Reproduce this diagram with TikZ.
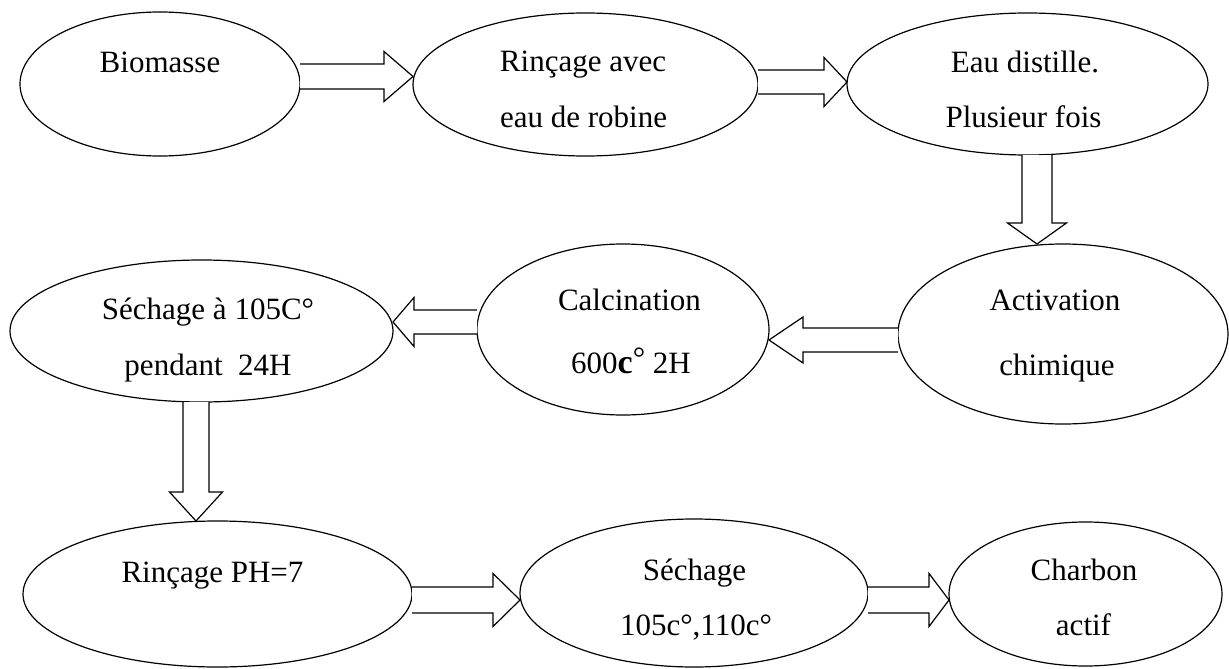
\documentclass[tikz,border=0pt]{standalone}
\usepackage{fontspec}
\setmainfont{Liberation Serif}
\usetikzlibrary{shapes.geometric,calc}
\tikzset{
  el/.style 2 args={ellipse, draw=black, line width=1.2pt, minimum width=#1pt, minimum height=#2pt, inner sep=0pt, outer sep=0pt},
  lbl/.style={anchor=base, inner sep=0pt, font=\fontsize{31pt}{31pt}\selectfont},
  arr/.style={draw=black, line width=1.2pt, fill=white, line join=miter},
}
% block arrow: #1 start, #2 tip, #3 shaft half width, #4 head half width, #5 head length
\newcommand\barrow[5]{%
  \coordinate (hb) at ($(#2)!#5pt!(#1)$);
  \draw[arr] ($(#1)!#3pt!90:(#2)$) -- ($(hb)!#3pt!90:(#2)$) -- ($(hb)!#4pt!90:(#2)$) -- (#2)
    -- ($(hb)!#4pt!-90:(#2)$) -- ($(hb)!#3pt!-90:(#2)$) -- ($(#1)!#3pt!-90:(#2)$);
}
\begin{document}
\begin{tikzpicture}[x=1pt,y=-1pt]
\useasboundingbox (0,0) rectangle (1229,669);
% ellipses
\node[el={280}{144}] (e1) at (160,84) {};
\node[el={345}{143}] (e2) at (585.5,84.5) {};
\node[el={361}{142}] (e3) at (1027.5,84) {};
\node[el={330}{180}] (e4) at (1063,334) {};
\node[el={292}{171}] (e5) at (623,329.5) {};
\node[el={383}{142}] (e6) at (201.5,331) {};
\node[el={389}{146}] (e7) at (217.5,594) {};
\node[el={348}{148}] (e8) at (694,593) {};
\node[el={273}{144}] (e9) at (1085.5,594) {};
% texts
\node[lbl] (t1) at (160,73) {Biomasse};
\node[lbl] (t2a) at (583,72) {Rinçage avec};
\node[lbl] (t2b) at (583.5,127) {eau de robine};
\node[lbl] (t3a) at (1025,73) {Eau distille.};
\node[lbl] (t3b) at (1023.5,127) {Plusieur fois};
\node[lbl] (t4a) at (1055,310) {Activation};
\node[lbl] (t4b) at (1057,375) {chimique};
\node[lbl] (t5a) at (629.5,310) {Calcination};
\node[lbl] (t5b) at (631,373) {600{\fontsize{34pt}{34pt}\selectfont\bfseries c}\raisebox{5pt}{°} 2H};
\node[lbl] (t6a) at (208,319) {Séchage à 105C°};
\node[lbl] (t6b) at (208,375) {pendant\ \ 24H};
\node[lbl] (t7) at (212.5,582) {Rinçage PH=7};
\node[lbl] (t8a) at (694.5,580) {Séchage};
\node[lbl] (t8b) at (696,635) {105c°,110c°};
\node[lbl] (t9a) at (1084,580) {Charbon};
\node[lbl] (t9b) at (1083.5,635) {actif};
% arrows
\coordinate (a1s) at (e1.east |- 0,76.5);
\coordinate (a1e) at (e2.west |- 0,76.5);
\barrow{a1s}{a1e}{12.5}{25}{29}
\coordinate (a2s) at (e2.east |- 0,82);
\coordinate (a2e) at (e3.west |- 0,82);
\barrow{a2s}{a2e}{12}{24.5}{23}
\coordinate (a3s) at (e3.south -| 1037,0);
\coordinate (a3e) at (e4.north -| 1037,0);
\barrow{a3s}{a3e}{15}{29.5}{21}
\coordinate (a4s) at (e4.west |- 0,340);
\coordinate (a4e) at (e5.east |- 0,340);
\barrow{a4s}{a4e}{12}{23}{34}
\coordinate (a5s) at (e5.west |- 0,322);
\coordinate (a5e) at (e6.east |- 0,322);
\barrow{a5s}{a5e}{12}{24.5}{21}
\coordinate (a6s) at (e6.south -| 196,0);
\coordinate (a6e) at (e7.north -| 196,0);
\barrow{a6s}{a6e}{13}{26.5}{29}
\coordinate (a7s) at (e7.east |- 0,600);
\coordinate (a7e) at (e8.west |- 0,600);
\barrow{a7s}{a7e}{13}{26.5}{27}
\coordinate (a8s) at (e8.east |- 0,600);
\coordinate (a8e) at (e9.west |- 0,600);
\barrow{a8s}{a8e}{13}{26.5}{20}
\end{tikzpicture}
\end{document}
